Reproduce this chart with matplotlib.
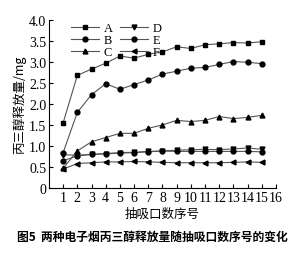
import matplotlib.pyplot as plt
import numpy as np

plt.rcParams['font.family'] = ['Liberation Serif', 'Noto Sans CJK SC']

puffs = np.arange(1, 16)
series_a = [1.55, 2.68, 2.83, 2.97, 3.14, 3.09, 3.18, 3.24, 3.36, 3.32, 3.41, 3.43, 3.46, 3.45, 3.48]
series_b = [0.84, 1.80, 2.22, 2.48, 2.35, 2.46, 2.57, 2.71, 2.78, 2.85, 2.87, 2.94, 3.01, 2.99, 2.96]
series_c = [0.47, 0.88, 1.10, 1.20, 1.30, 1.30, 1.42, 1.50, 1.61, 1.58, 1.61, 1.70, 1.65, 1.68, 1.73]
series_d = [0.79, 0.78, 0.80, 0.82, 0.84, 0.85, 0.87, 0.88, 0.90, 0.91, 0.92, 0.91, 0.93, 0.95, 0.92]
series_e = [0.65, 0.76, 0.80, 0.81, 0.83, 0.84, 0.86, 0.88, 0.87, 0.87, 0.87, 0.87, 0.87, 0.87, 0.86]
series_f = [0.45, 0.58, 0.60, 0.62, 0.62, 0.63, 0.62, 0.61, 0.60, 0.60, 0.60, 0.60, 0.61, 0.62, 0.61]

names = ['A', 'B', 'C', 'D', 'E', 'F']
markers = ['s', 'o', '^', 'v', 'o', '<']
all_series = [series_a, series_b, series_c, series_d, series_e, series_f]

fig = plt.figure(figsize=(3.04, 2.55), dpi=100)
ax = fig.add_axes([0.161, 0.259, 0.747, 0.659])

for y, name, m in zip(all_series, names, markers):
    ax.plot(puffs, y, color='#555555', lw=0.8, marker=m, markersize=3.5,
            markerfacecolor='black', markeredgecolor='black', label=name)

ax.set_xlim(0, 16)
ax.set_ylim(0, 4.0)
ax.set_xticks(range(1, 17))
ax.set_yticks([0, 0.5, 1.0, 1.5, 2.0, 2.5, 3.0, 3.5, 4.0])
ax.set_yticklabels(['0', '0.5', '1.0', '1.5', '2.0', '2.5', '3.0', '3.5', '4.0'])
ax.tick_params(direction='in', length=3, width=0.8, labelsize=10, pad=2)
ax.spines['top'].set_visible(False)
ax.spines['right'].set_visible(False)

ax.set_xlabel('抽吸口数序号', family=['Noto Sans CJK SC'], fontsize=9, labelpad=2)
ax.set_ylabel('丙三醇释放量/mg', family=['Noto Sans CJK SC', 'Liberation Serif'], fontsize=9, labelpad=2)

ax.legend(ncol=2, loc='upper left', bbox_to_anchor=(0.06, 1.04), frameon=False,
          fontsize=9, handlelength=2.2, handletextpad=0.4, columnspacing=0.6,
          labelspacing=0.0, borderpad=0.2)

fig.text(0.5, 0.055, '图5  两种电子烟丙三醇释放量随抽吸口数序号的变化', ha='center',
         family=['Noto Sans CJK SC'], fontsize=8.5, fontweight='bold')

fig.savefig('out.png', dpi=100)
